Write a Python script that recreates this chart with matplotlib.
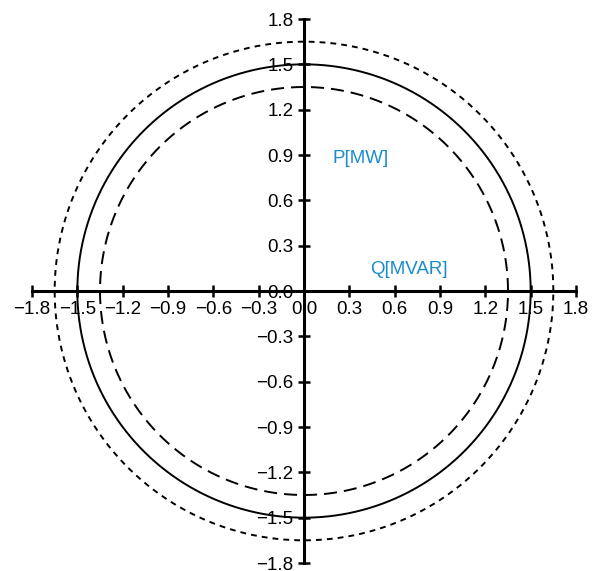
import numpy as np
import matplotlib.pyplot as plt
from matplotlib.ticker import FuncFormatter

plt.rcParams['font.family'] = ['Liberation Sans', 'DejaVu Sans']

# radios de los circulos (P-Q)
radios = [1.5, 1.35, 1.65]
estilos = ['-', (0, (6.7, 3.6)), (0, (3, 2.6))]
ticks = np.round(np.arange(-1.8, 1.81, 0.3), 1)

theta = np.linspace(0, 2 * np.pi, 400)


def fmt(v, pos):
    s = '%.1f' % abs(v)
    return ('\u2212' + s) if v < -1e-9 else s


fig = plt.figure(figsize=(5.95, 5.71), dpi=100)
ax = fig.add_axes([32 / 595, 8 / 571, 544 / 595, 544 / 571])

for r, ls in zip(radios, estilos):
    ax.plot(r * np.cos(theta), r * np.sin(theta), color='black', lw=1.4, linestyle=ls)

ax.set_xlim(-1.8, 1.8)
ax.set_ylim(-1.8, 1.8)
ax.spines['left'].set_position(('data', 0))
ax.spines['bottom'].set_position(('data', 0))
ax.spines['right'].set_visible(False)
ax.spines['top'].set_visible(False)
ax.spines['left'].set_linewidth(2.2)
ax.spines['bottom'].set_linewidth(2.2)

ax.set_xticks(ticks)
ax.set_yticks(ticks)
ax.xaxis.set_major_formatter(FuncFormatter(fmt))
ax.yaxis.set_major_formatter(FuncFormatter(fmt))
ax.tick_params(direction='inout', length=9, width=1.8, labelsize=13.5, pad=3)

ax.text(0.19, 0.88, 'P[MW]', color='#1b8bcf', fontsize=13.5, va='center')
ax.text(0.44, 0.14, 'Q[MVAR]', color='#1b8bcf', fontsize=13.5, va='center')

fig.savefig('out.png')
